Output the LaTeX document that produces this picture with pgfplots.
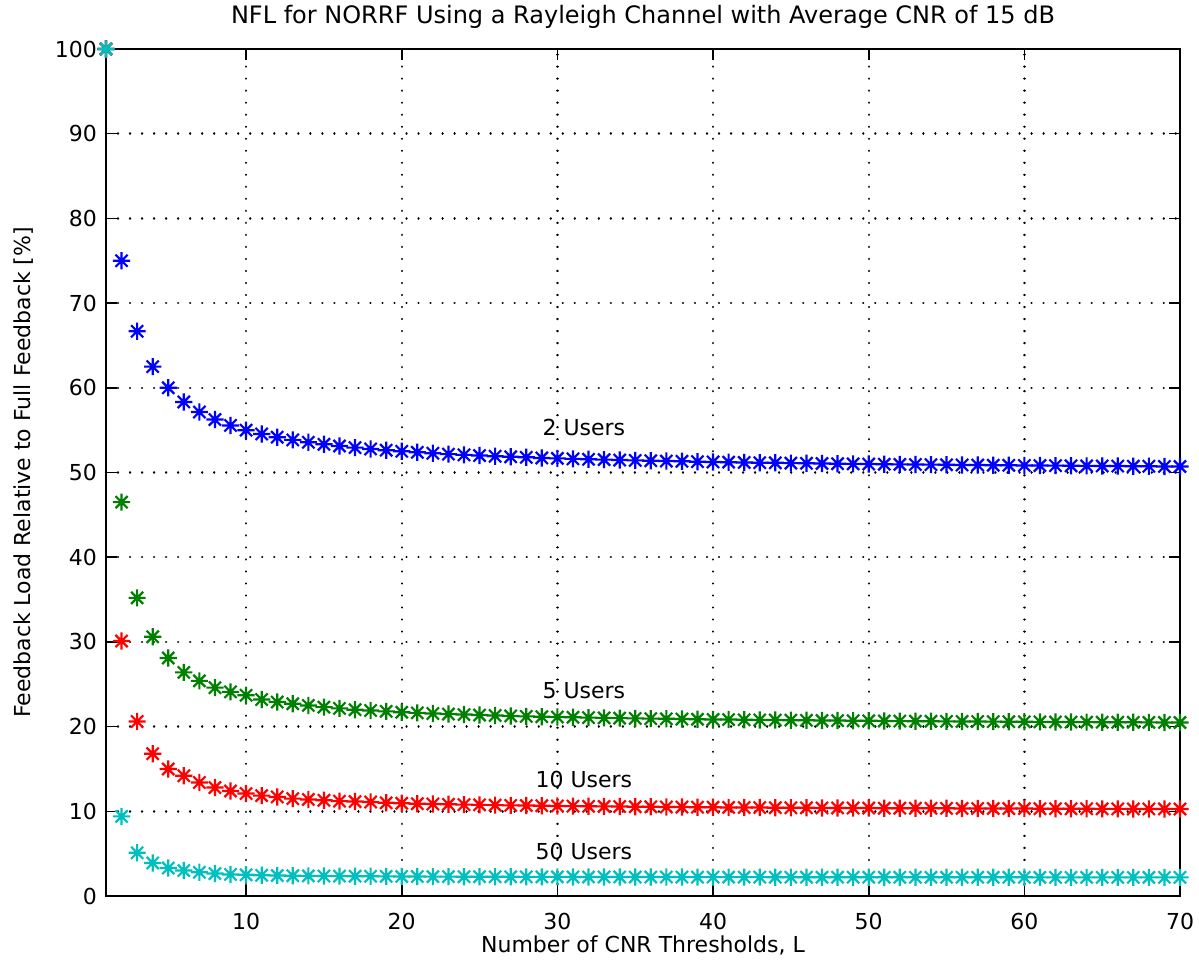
\documentclass[border=0pt]{standalone}
\usepackage{fontspec}
\setmainfont{DejaVu Sans}
\usepackage{pgfplots}
\pgfplotsset{compat=1.18}

\pgfdeclareplotmark{mstar}{%
  \pgfpathmoveto{\pgfqpoint{-\pgfplotmarksize}{0pt}}%
  \pgfpathlineto{\pgfqpoint{\pgfplotmarksize}{0pt}}%
  \pgfpathmoveto{\pgfqpoint{0pt}{-\pgfplotmarksize}}%
  \pgfpathlineto{\pgfqpoint{0pt}{\pgfplotmarksize}}%
  \pgfpathmoveto{\pgfqpoint{-0.707\pgfplotmarksize}{-0.707\pgfplotmarksize}}%
  \pgfpathlineto{\pgfqpoint{0.707\pgfplotmarksize}{0.707\pgfplotmarksize}}%
  \pgfpathmoveto{\pgfqpoint{-0.707\pgfplotmarksize}{0.707\pgfplotmarksize}}%
  \pgfpathlineto{\pgfqpoint{0.707\pgfplotmarksize}{-0.707\pgfplotmarksize}}%
  \pgfusepathqstroke}

\definecolor{mblue}{rgb}{0,0,1}
\definecolor{mgreen}{rgb}{0,0.5,0}
\definecolor{mred}{rgb}{1,0,0}
\definecolor{mcyan}{rgb}{0,0.75,0.75}

\begin{document}
\begin{tikzpicture}[font=\fontsize{11}{13}\selectfont]
\useasboundingbox (-53pt,-37.5pt) rectangle (546.5pt,448pt);
\begin{axis}[
  at={(0,0)}, anchor=south west,
  width=537pt, height=423.5pt, scale only axis,
  xmin=1, xmax=70, ymin=0, ymax=100,
  xtick={10,20,...,70}, ytick={0,10,...,100},
  tick align=inside, major tick length=5.5pt,
  every tick/.style={black, line width=0.8pt},
  axis line style={black, line width=0.8pt},
  grid=major,
  major grid style={black, line width=1.2pt, dash pattern=on 0.01pt off 6pt, line cap=round},
  /pgf/number format/assume math mode=true,
  xticklabel style={yshift=-5pt},
  yticklabel style={xshift=-1pt},
  clip=false,
  xlabel={Number of CNR Thresholds, L},
  xlabel style={at={(axis description cs:0.5,-0.0579)}, anchor=center},
  ylabel={Feedback Load Relative to Full Feedback [\%]},
  ylabel style={at={(axis description cs:-0.0764,0.5)}, anchor=center},
  every axis plot/.append style={only marks, mark=mstar, mark size=4.3pt, line width=1.1pt},
]
\addplot[mblue] coordinates {
(1,100) (2,75) (3,66.67) (4,62.5) (5,60) (6,58.33) (7,57.14) (8,56.25) (9,55.56) (10,55)
(11,54.55) (12,54.17) (13,53.85) (14,53.57) (15,53.33) (16,53.13) (17,52.94) (18,52.78) (19,52.63) (20,52.5)
(21,52.38) (22,52.27) (23,52.17) (24,52.08) (25,52) (26,51.92) (27,51.85) (28,51.79) (29,51.72) (30,51.67)
(31,51.61) (32,51.56) (33,51.52) (34,51.47) (35,51.43) (36,51.39) (37,51.35) (38,51.32) (39,51.28) (40,51.25)
(41,51.22) (42,51.19) (43,51.16) (44,51.14) (45,51.11) (46,51.09) (47,51.06) (48,51.04) (49,51.02) (50,51)
(51,50.98) (52,50.96) (53,50.94) (54,50.93) (55,50.91) (56,50.89) (57,50.88) (58,50.86) (59,50.85) (60,50.83)
(61,50.82) (62,50.81) (63,50.79) (64,50.78) (65,50.77) (66,50.76) (67,50.75) (68,50.74) (69,50.72) (70,50.71)
};
\addplot[mgreen] coordinates {
(1,100) (2,46.5) (3,35.2) (4,30.6) (5,28.1) (6,26.4) (7,25.4) (8,24.6) (9,24.1) (10,23.7)
(11,23.2) (12,22.9) (13,22.7) (14,22.5) (15,22.3) (16,22.15) (17,22.0) (18,21.9) (19,21.8) (20,21.7)
(21,21.62) (22,21.55) (23,21.48) (24,21.42) (25,21.36) (26,21.31) (27,21.26) (28,21.21) (29,21.17) (30,21.13)
(31,21.10) (32,21.06) (33,21.03) (34,21.0) (35,20.97) (36,20.94) (37,20.92) (38,20.89) (39,20.87) (40,20.85)
(41,20.83) (42,20.81) (43,20.79) (44,20.77) (45,20.76) (46,20.74) (47,20.72) (48,20.71) (49,20.69) (50,20.68)
(51,20.67) (52,20.65) (53,20.64) (54,20.63) (55,20.62) (56,20.61) (57,20.60) (58,20.59) (59,20.58) (60,20.57)
(61,20.56) (62,20.55) (63,20.54) (64,20.53) (65,20.52) (66,20.52) (67,20.51) (68,20.50) (69,20.49) (70,20.49)
};
\addplot[mred] coordinates {
(1,100) (2,30.1) (3,20.6) (4,16.8) (5,15.0) (6,14.2) (7,13.4) (8,12.8) (9,12.4) (10,12.1)
(11,11.85) (12,11.7) (13,11.5) (14,11.4) (15,11.3) (16,11.2) (17,11.15) (18,11.1) (19,11.0) (20,10.95)
(21,10.90) (22,10.86) (23,10.83) (24,10.79) (25,10.76) (26,10.73) (27,10.70) (28,10.68) (29,10.66) (30,10.63)
(31,10.61) (32,10.59) (33,10.58) (34,10.56) (35,10.54) (36,10.53) (37,10.51) (38,10.50) (39,10.49) (40,10.48)
(41,10.46) (42,10.45) (43,10.44) (44,10.43) (45,10.42) (46,10.41) (47,10.40) (48,10.40) (49,10.39) (50,10.38)
(51,10.37) (52,10.37) (53,10.36) (54,10.35) (55,10.35) (56,10.34) (57,10.33) (58,10.33) (59,10.32) (60,10.32)
(61,10.31) (62,10.31) (63,10.30) (64,10.30) (65,10.29) (66,10.29) (67,10.28) (68,10.28) (69,10.28) (70,10.27)
};
\addplot[mcyan] coordinates {
(1,100) (2,9.4) (3,5.1) (4,3.9) (5,3.3) (6,3.0) (7,2.8) (8,2.65) (9,2.55) (10,2.5)
(11,2.45) (12,2.42) (13,2.4) (14,2.38) (15,2.36) (16,2.35) (17,2.34) (18,2.33) (19,2.32) (20,2.31)
(21,2.30) (22,2.29) (23,2.29) (24,2.28) (25,2.28) (26,2.27) (27,2.27) (28,2.26) (29,2.26) (30,2.26)
(31,2.25) (32,2.25) (33,2.25) (34,2.25) (35,2.24) (36,2.24) (37,2.24) (38,2.24) (39,2.23) (40,2.23)
(41,2.23) (42,2.23) (43,2.23) (44,2.22) (45,2.22) (46,2.22) (47,2.22) (48,2.22) (49,2.22) (50,2.22)
(51,2.21) (52,2.21) (53,2.21) (54,2.21) (55,2.21) (56,2.21) (57,2.21) (58,2.21) (59,2.21) (60,2.21)
(61,2.20) (62,2.20) (63,2.20) (64,2.20) (65,2.20) (66,2.20) (67,2.20) (68,2.20) (69,2.20) (70,2.20)
};
\node[anchor=center] at (axis cs:31.7,55.3) {2 Users};
\node[anchor=center] at (axis cs:31.7,24.2) {5 Users};
\node[anchor=center] at (axis cs:31.7,13.8) {10 Users};
\node[anchor=center] at (axis cs:31.7,5.3) {50 Users};
\node[anchor=center, font=\fontsize{12}{14}\selectfont] at (axis description cs:0.5,1.0378) {NFL for NORRF Using a Rayleigh Channel with Average CNR of 15 dB};
\end{axis}
\end{tikzpicture}
\end{document}
